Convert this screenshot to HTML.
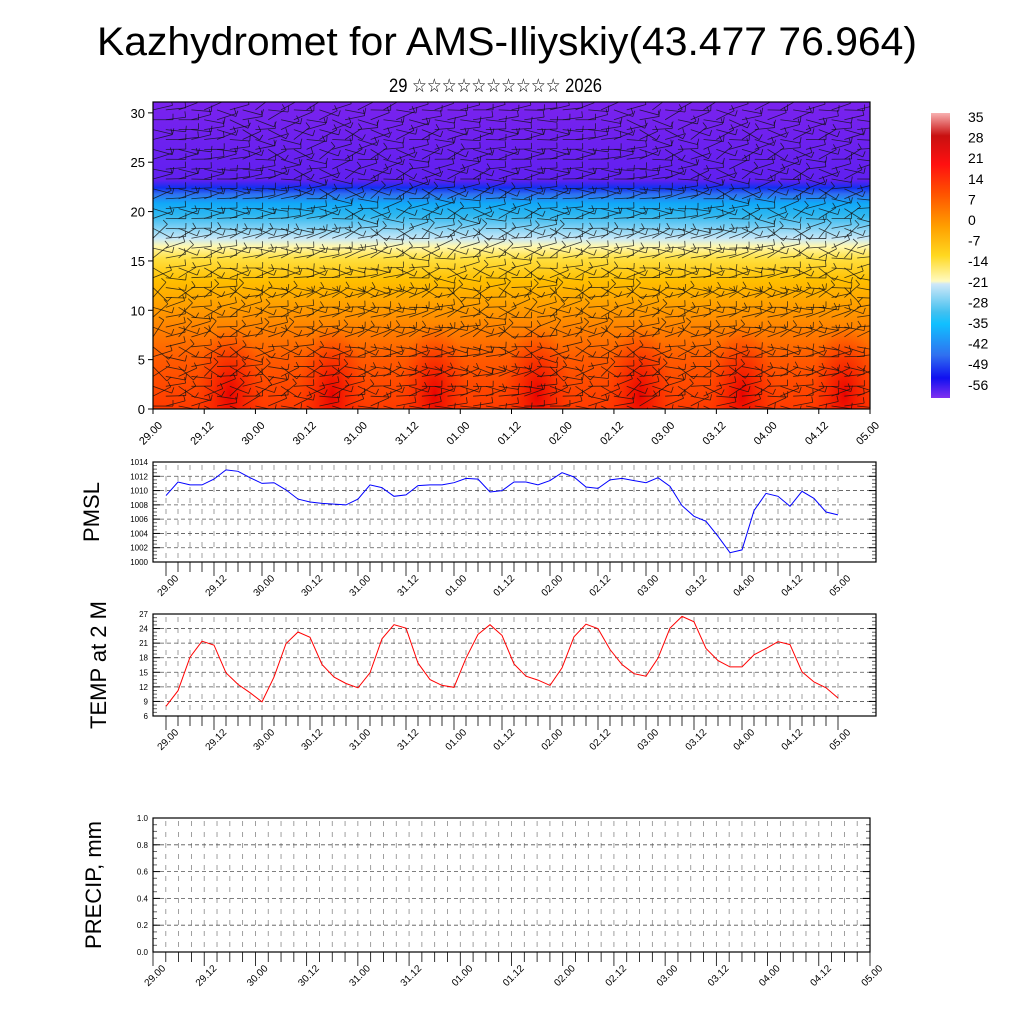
<!DOCTYPE html>
<html><head><meta charset="utf-8"><style>
html,body{margin:0;padding:0;background:#fff}
svg{display:block;font-family:"Liberation Sans",sans-serif}
</style></head><body>
<svg id="chart" width="1024" height="1024" viewBox="0 0 1024 1024" xmlns="http://www.w3.org/2000/svg">
<defs>
<linearGradient id="vgrad" x1="0" y1="1" x2="0" y2="0">
<stop offset="0" stop-color="#ff3a00"/>
<stop offset="0.16" stop-color="#ff5a00"/>
<stop offset="0.30" stop-color="#ff9000"/>
<stop offset="0.42" stop-color="#ffc000"/>
<stop offset="0.49" stop-color="#ffe040"/>
<stop offset="0.53" stop-color="#fff8b0"/>
<stop offset="0.555" stop-color="#c8e8f8"/>
<stop offset="0.63" stop-color="#30b8f0"/>
<stop offset="0.67" stop-color="#10a8f8"/>
<stop offset="0.70" stop-color="#3070f0"/>
<stop offset="0.72" stop-color="#1030f0"/>
<stop offset="0.745" stop-color="#6020f0"/>
<stop offset="1" stop-color="#7a22ee"/>
</linearGradient>
<linearGradient id="cbgrad" x1="0" y1="0" x2="0" y2="1">
<stop offset="0" stop-color="#f8b0b0"/>
<stop offset="0.08" stop-color="#c81010"/>
<stop offset="0.18" stop-color="#ff1010"/>
<stop offset="0.28" stop-color="#ff5000"/>
<stop offset="0.4" stop-color="#ffa000"/>
<stop offset="0.5" stop-color="#ffd820"/>
<stop offset="0.59" stop-color="#fffac0"/>
<stop offset="0.6" stop-color="#d0e8f8"/>
<stop offset="0.7" stop-color="#40c0f0"/>
<stop offset="0.74" stop-color="#10c0ff"/>
<stop offset="0.85" stop-color="#3070f0"/>
<stop offset="0.93" stop-color="#1010f0"/>
<stop offset="1" stop-color="#8030f0"/>
</linearGradient>
<radialGradient id="blob"><stop offset="0" stop-color="#e80000" stop-opacity="0.95"/><stop offset="1" stop-color="#ff2000" stop-opacity="0"/></radialGradient>
<clipPath id="topclip"><rect x="153" y="102" width="717" height="307"/></clipPath>
</defs>
<g id="root"></g>
</svg>
<script>
// ---- data ----
const dayLabels = ["29.00","29.12","30.00","30.12","31.00","31.12","01.00","01.12","02.00","02.12","03.00","03.12","04.00","04.12","05.00"];
const pmslValues = [1009.3,1011.2,1010.8,1010.8,1011.6,1012.9,1012.7,1011.8,1011.0,1011.1,1010.1,1008.8,1008.4,1008.2,1008.1,1008.0,1008.8,1010.8,1010.4,1009.2,1009.4,1010.7,1010.8,1010.8,1011.1,1011.7,1011.6,1009.8,1010.0,1011.2,1011.2,1010.8,1011.4,1012.5,1011.9,1010.5,1010.3,1011.5,1011.7,1011.4,1011.1,1011.8,1010.6,1007.9,1006.4,1005.7,1003.6,1001.3,1001.7,1007.2,1009.6,1009.2,1007.8,1009.9,1008.9,1007.0,1006.6];
const tempValues = [8.0,11.2,18.1,21.4,20.6,14.9,12.5,10.8,8.9,14.0,20.9,23.3,22.2,16.6,14.0,12.7,11.8,14.9,21.9,24.8,24.1,16.9,13.5,12.3,11.9,17.9,22.8,24.8,22.6,16.7,14.2,13.4,12.3,15.9,22.3,24.9,24.0,19.7,16.6,14.7,14.2,17.9,24.1,26.5,25.4,19.9,17.4,16.1,16.1,18.6,19.9,21.3,20.7,15.1,13.0,11.8,9.7];
const precipValues = [];
const pmslTicks = [1000,1002,1004,1006,1008,1010,1012,1014];
const tempTicks = [6,9,12,15,18,21,24,27];
const precipTicks = ["0.0","0.2","0.4","0.6","0.8","1.0"];
const heightTicks = [0,5,10,15,20,25,30];
const colorbarLabels = ["35","28","21","14","7","0","-7","-14","-21","-28","-35","-42","-49","-56"];
const warmBlobHours = [18,42,66,90,114,138,162];
const windLevelAngles = [0,-25,18,-30,42,-16,35,-52,20,-38,15,-45,40,-20,28,-35,12,-40,25,-18,16,-22,13,-14,10,-16,14,-13,12,0,-12];

// ---- helpers ----
const NS="http://www.w3.org/2000/svg";
const rootG=document.getElementById('root');
function el(tag,attrs,parent){const e=document.createElementNS(NS,tag);for(const k in attrs)e.setAttribute(k,attrs[k]);(parent||rootG).appendChild(e);return e;}
function txt(x,y,s,attrs,parent){const t=el('text',Object.assign({x:x,y:y},attrs),parent);t.textContent=s;return t;}

// title
let tt=txt(507,55,"Kazhydromet for AMS-Iliyskiy(43.477 76.964)",{'font-size':40,'text-anchor':'middle',textLength:820,lengthAdjust:'spacingAndGlyphs'});


tt=txt(389,92,"29 ☆☆☆☆☆☆☆☆☆☆ 2026",{'font-size':19,textLength:213,lengthAdjust:'spacingAndGlyphs'});



// ---- top cross-section ----
const TX0=153,TX1=870,TY0=102,TY1=409,HMAX=31.1;
const hx=h=>TX0+(TX1-TX0)*h/168;
const hy=z=>TY1-(TY1-TY0)*z/HMAX;
const topG=el('g',{'clip-path':'url(#topclip)'});


el('rect',{x:TX0,y:TY0,width:TX1-TX0,height:TY1-TY0,fill:'url(#vgrad)'},topG);
warmBlobHours.forEach(h=>{
  const b=el('ellipse',{cx:hx(h),cy:hy(1.5),rx:34,ry:70,fill:'url(#blob)'},topG);
  
  
});
const barbs=el('g',{stroke:'#111','stroke-width':0.8,'stroke-opacity':0.8,fill:'none'},topG);


for(let lv=0;lv<windLevelAngles.length;lv++){
  const z=lv*1.0+0.3;
  for(let h=0;h<=168;h+=3){
    const x=hx(h),y=hy(z);
    const a=(windLevelAngles[lv]*0.5+windLevelAngles[(lv+h/3)%windLevelAngles.length]*0.6)*Math.PI/180;
    const L=20;
    const x2=x+L*Math.cos(a),y2=y+L*Math.sin(a);
    el('line',{x1:x,y1:y,x2:x2,y2:y2},barbs);
    el('line',{x1:x2,y1:y2,x2:x2+6*Math.sin(a),y2:y2-6*Math.cos(a)},barbs);
  }
}
el('rect',{x:TX0,y:TY0,width:TX1-TX0,height:TY1-TY0,fill:'none',stroke:'#000','stroke-width':1.2});
heightTicks.forEach(v=>{
  el('line',{x1:TX0-5,x2:TX0,y1:hy(v),y2:hy(v),stroke:'#000'});
  const l=txt(TX0-8,hy(v)+5,String(v),{'font-size':13,'text-anchor':'end'});
  
  
});
dayLabels.forEach((s,i)=>{
  const x=hx(i*12);
  el('line',{x1:x,x2:x,y1:TY1,y2:TY1+5,stroke:'#000'});
  const l=txt(0,0,s,{'font-size':11,'text-anchor':'end',transform:`translate(${x+10},${TY1+17}) rotate(-45)`});
  
  
});

// colorbar
const cbar=el('rect',{x:931,y:113,width:19,height:285,fill:'url(#cbgrad)'});


colorbarLabels.forEach((s,i)=>{
  const l=txt(968,122+i*20.6,s,{'font-size':14});
  
  
});

// ---- line panels ----
function drawPanel(opt){
  const g=el('g',{});
  
  
  const {x0,x1,y0,y1,vmin,vmax,d0,d1}=opt;
  const sy=v=>y1-(y1-y0)*(v-vmin)/(vmax-vmin);
  const sx=h=>d0+(d1-d0)*h/168;
  for(let h=0;h<=168;h+=3){
    const x=sx(h); if(x<=x0||x>=x1)continue;
    el('line',{x1:x,x2:x,y1:y0+3,y2:y1-3,stroke:'#888','stroke-width':0.8,'stroke-dasharray':'5,6'},g);
  }
  opt.ticks.forEach(v=>{
    const y=sy(+v);
    if(y>y0+1&&y<y1-1) el('line',{x1:x0,x2:x1,y1:y,y2:y,stroke:'#555','stroke-width':0.8,'stroke-dasharray':'4,3'},g);
    el('line',{x1:x0,x2:x0+7,y1:y,y2:y,stroke:'#000'},g);
    el('line',{x1:x1-7,x2:x1,y1:y,y2:y,stroke:'#000'},g);
    const l=txt(x0-5,y+3,String(v),{'font-size':8,'text-anchor':'end'},g);
    
    
  });
  const tk=opt.ticks.map(Number);
  for(let i=0;i<tk.length-1;i++)for(let j=1;j<4;j++){
    const y=sy(tk[i]+(tk[i+1]-tk[i])*j/4);
    el('line',{x1:x0,x2:x0+4,y1:y,y2:y,stroke:'#666'},g);
    el('line',{x1:x1-4,x2:x1,y1:y,y2:y,stroke:'#666'},g);
  }
  el('rect',{x:x0,y:y0,width:x1-x0,height:y1-y0,fill:'none',stroke:'#000','stroke-width':1.2},g);
  for(let h=0;h<=168;h+=3){
    const x=sx(h);
    el('line',{x1:x,x2:x,y1:y1,y2:y1+(h%12===0?14:10),stroke:'#000','stroke-width':0.8},g);
  }
  dayLabels.forEach((s,i)=>{
    const x=sx(i*12);
    const l=txt(0,0,s,{'font-size':10,'text-anchor':'end',transform:`translate(${x+13},${y1+17}) rotate(-45)`},g);
    
    
  });
  if(opt.values.length){
    const pts=opt.values.map((v,i)=>sx(i*3).toFixed(1)+','+sy(v).toFixed(1)).join(' ');
    const p=el('polyline',{points:pts,fill:'none',stroke:opt.color,'stroke-width':1},g);
    
    
  }
  const yt=txt(0,0,opt.title,{'font-size':22,'text-anchor':'middle',transform:`translate(${opt.tx},${(y0+y1)/2}) rotate(-90)`},g);
  
  
}
drawPanel({name:'pmsl-panel',x0:153,x1:876,y0:462,y1:562,vmin:1000,vmax:1014,d0:166,d1:838,ticks:pmslTicks,values:pmslValues,color:'#0000ff',title:'PMSL',tx:99});
drawPanel({name:'temp-panel',x0:153,x1:876,y0:614,y1:716,vmin:6,vmax:27,d0:166,d1:838,ticks:tempTicks,values:tempValues,color:'#ff0000',title:'TEMP at 2 M',tx:106});
drawPanel({name:'precip-panel',x0:153,x1:870,y0:818,y1:952,vmin:0,vmax:1,d0:153,d1:870,ticks:precipTicks,values:precipValues,color:'#008000',title:'PRECIP, mm',tx:101});
</script>
</body></html>
